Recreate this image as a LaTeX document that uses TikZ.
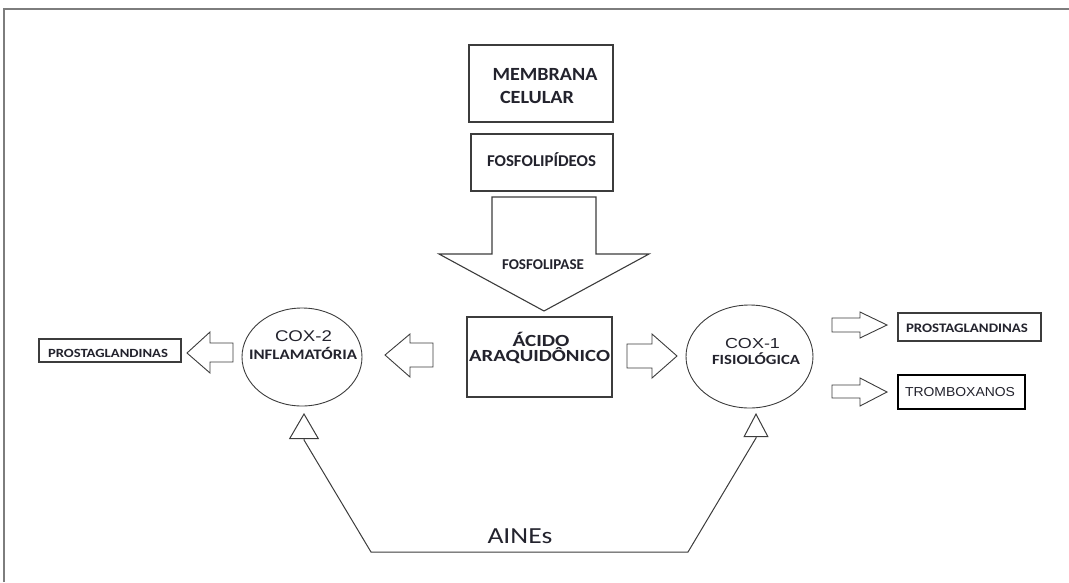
\documentclass[tikz,border=0pt]{standalone}
\usepackage{fontspec}
\setmainfont{Carlito}
\newfontfamily\arialf{Liberation Sans}
\usetikzlibrary{arrows.meta,shapes.geometric}
\newcommand{\fw}[2]{\resizebox{#1}{\height}{#2}}
\definecolor{linec}{RGB}{60,60,60}
\definecolor{framec}{RGB}{125,125,125}
\definecolor{txtc}{RGB}{35,35,45}
\begin{document}
\begin{tikzpicture}[x=1pt,y=-1pt,
  box/.style={draw=linec, line width=1.2pt, inner sep=0pt, fill=white},
  ell/.style={ellipse, draw=linec, line width=0.9pt, inner sep=0pt},
  blk/.style={draw=linec, line width=0.9pt, fill=white, line join=miter},
  lbl/.style={anchor=base, inner sep=0pt, text=txtc, font=\bfseries},
]
\useasboundingbox (0,0) rectangle (1069,582);
% frame
\draw[framec, line width=2pt] (4,582) -- (4,9) -- (1069,9);

% boxes
\node[box, minimum width=144pt, minimum height=77pt] (memb) at (541,83.5) {};
\node[lbl, font=\bfseries\fontsize{18.6}{20}\selectfont] (membt1) at (545,80) {\fw{105pt}{MEMBRANA}};
\node[lbl, font=\bfseries\fontsize{18.6}{20}\selectfont] (membt2) at (537,103) {\fw{74pt}{CELULAR}};

\node[box, minimum width=142pt, minimum height=57pt] (fosf) at (542,162.5) {};
\node[lbl, font=\bfseries\fontsize{16.5}{18}\selectfont] (fosft) at (541.5,166) {\fw{109pt}{FOSFOLIPÍDEOS}};

% big arrow
\draw[blk, line width=1.1pt] (492,197) -- (596,197) -- (596,254) -- (649,254) -- (544,311) -- (439,254) -- (492,254) -- cycle;
\node[lbl, font=\bfseries\fontsize{15}{17}\selectfont] (fosfase) at (543,269) {\fw{82pt}{FOSFOLIPASE}};

\node[box, minimum width=145pt, minimum height=80pt] (acido) at (539.5,357) {};
\node[lbl, font=\bfseries\fontsize{17}{19}\selectfont] (acidot1) at (541,346.5) {\fw{57pt}{ÁCIDO}};
\node[lbl, font=\bfseries\fontsize{17}{19}\selectfont] (acidot2) at (539.5,361.5) {\fw{141pt}{ARAQUIDÔNICO}};

% ellipses
\node[ell, minimum width=120pt, minimum height=98pt] (cox2) at (302,357) {};
\node[lbl, font=\arialf\fontsize{15.5}{17}\selectfont] (cox2t1) at (303.5,341) {\fw{57pt}{COX-2}};
\node[lbl, font=\bfseries\fontsize{14.5}{16}\selectfont] (cox2t2) at (303,359) {\fw{108pt}{INFLAMATÓRIA}};

\node[ell, minimum width=127pt, minimum height=103pt] (cox1) at (749.5,356.5) {};
\node[lbl, font=\arialf\fontsize{14.5}{17}\selectfont] (cox1t1) at (752.5,348) {\fw{55pt}{COX-1}};
\node[lbl, font=\bfseries\fontsize{14}{16}\selectfont] (cox1t2) at (756,364) {\fw{88pt}{FISIOLÓGICA}};

% product boxes
\node[box, line width=1.5pt, minimum width=143pt, minimum height=28pt] (pgR) at (969.5,327) {};
\node[lbl, font=\bfseries\fontsize{13}{15}\selectfont] (pgRt) at (967,332.5) {\fw{122pt}{PROSTAGLANDINAS}};

\node[box, line width=2pt, draw=black, minimum width=127pt, minimum height=34pt] (trom) at (961.5,392) {};
\node[lbl, font=\arialf\fontsize{13}{15}\selectfont] (tromt) at (960,396.5) {\fw{110pt}{TROMBOXANOS}};

\node[box, line width=1.5pt, minimum width=142pt, minimum height=23pt] (pgL) at (110,350.5) {};
\node[lbl, font=\bfseries\fontsize{12.5}{15}\selectfont] (pgLt) at (108,357.5) {\fw{120pt}{PROSTAGLANDINAS}};

% block arrows
\draw[blk] (433,343) -- (410,343) -- (410,334) -- (385,355) -- (410,377) -- (410,367) -- (433,367) -- cycle;
\draw[blk] (627,344) -- (652,344) -- (652,334) -- (677,356) -- (652,378) -- (652,368) -- (627,368) -- cycle;
\draw[blk] (233,343) -- (210,343) -- (210,332) -- (187,353) -- (210,373) -- (210,362) -- (233,362) -- cycle;
\draw[blk] (832,318) -- (860,318) -- (860,312) -- (887,325) -- (860,338) -- (860,332) -- (832,332) -- cycle;
\draw[blk] (832,385) -- (860,385) -- (860,378) -- (887,392) -- (860,406) -- (860,398) -- (832,398) -- cycle;

% AINEs connector
\coordinate (a2) at (304,413);
\coordinate (b2) at (304,440);
\coordinate (c2) at (371,552);
\coordinate (c1) at (688,552);
\coordinate (b1) at (756,438);
\coordinate (a1) at (756,413);
\draw[linec, line width=1pt, {Triangle[open,length=26pt,width=30pt]}-{Triangle[open,length=24pt,width=25pt]}]
  (a2) -- (b2) -- (c2) -- (c1) -- (b1) -- (a1);
\node[anchor=base, inner sep=0pt, text=txtc, font=\fontsize{23}{25}\selectfont] (aines) at (520,543) {\fw{65pt}{AINEs}};
\end{tikzpicture}
\end{document}
